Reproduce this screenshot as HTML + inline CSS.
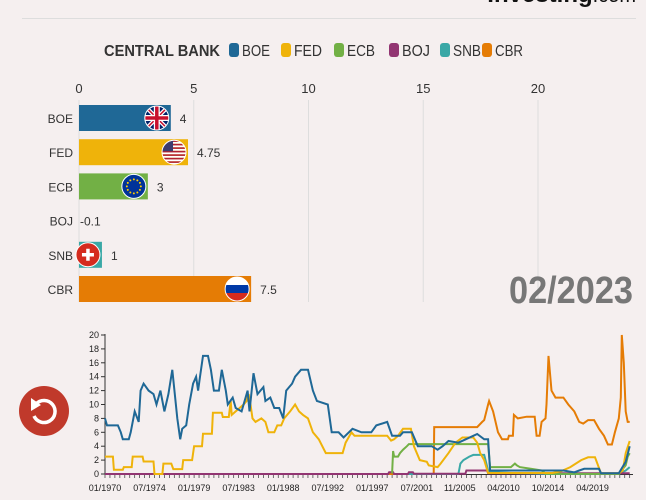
<!DOCTYPE html>
<html><head><meta charset="utf-8"><style>
body{margin:0;background:#f5efef;width:646px;height:500px;overflow:hidden;position:relative;font-family:"Liberation Sans",sans-serif;}
svg{position:absolute;left:0;top:0}
</style></head><body>
<svg id="c" width="646" height="500">
<text x="636" y="2" text-anchor="end" font-family="Liberation Sans" font-weight="bold" font-size="24" fill="#111">Investing<tspan font-weight="normal" font-size="20">.com</tspan></text>
<line x1="22" y1="18.5" x2="636" y2="18.5" stroke="#ddd"/>
<g id="legend" font-size="16" fill="#333"></g>
<g id="bars"></g>
<text x="509" y="303" font-size="38" font-weight="bold" fill="#777" textLength="124" lengthAdjust="spacingAndGlyphs">02/2023</text>
<g id="lines"></g>
<g>
<circle cx="44" cy="411" r="25" fill="#c0392b"/>
<path d="M36 404 A11 11 0 1 1 34 416" fill="none" stroke="#fff" stroke-width="3.5"/>
<polygon points="31,398 41,405 31,411" fill="#fff"/>
</g>
</svg>
<script>
const NS="http://www.w3.org/2000/svg";
function mk(t,a,p){const e=document.createElementNS(NS,t);for(const k in a)e.setAttribute(k,a[k]);p.appendChild(e);return e;}
const banks=["BOE","FED","ECB","BOJ","SNB","CBR"];
const colors=["#1f6896","#efb30a","#72b045","#923572","#3aa8a6","#e57c05"];
const rates=[4,4.75,3,-0.1,1,7.5];
const rateLabels=["4","4.75","3","-0.1","1","7.5"];
const barTicks=[0,5,10,15,20];

// legend
const lg=document.getElementById('legend');
let t=mk('text',{x:104,y:56,'font-weight':'bold',textLength:116,lengthAdjust:'spacingAndGlyphs'},lg);t.textContent="CENTRAL BANK";

const lx=[229,281,334,389,440,482];
banks.forEach((b,i)=>{const g=mk('g',{},lg);


mk('rect',{x:lx[i],y:43,width:10,height:14,rx:3,fill:colors[i]},g);
const tx=mk('text',{x:lx[i]+13,y:56,textLength:28,lengthAdjust:'spacingAndGlyphs'},g);tx.textContent=b;});

// bar chart
const bg=document.getElementById('bars');
const bx=v=>79+v*22.95;
barTicks.forEach(v=>{const l=mk('line',{x1:bx(v),y1:100,x2:bx(v),y2:302,stroke:'#ddd'},bg);

const tx=mk('text',{x:bx(v),y:93,'text-anchor':'middle','font-size':13,fill:'#333'},bg);tx.textContent=v;
});
banks.forEach((b,i)=>{const cy=118+i*34.2;
const lab=mk('text',{x:73,y:cy+5,'text-anchor':'end','font-size':12,fill:'#333'},bg);lab.textContent=b;

const v=rates[i];const x0=bx(Math.min(0,v)),w=v>0?Math.abs(bx(v)-bx(0)):0;
const r=mk('rect',{x:x0,y:cy-13,width:w,height:26,fill:colors[i]},bg);

if(v>0.5){const fx=bx(v)-14;const f=mk('g',{},bg);

drawFlag(b,fx,cy,f);}
const vl=mk('text',{x:v>0?bx(v)+9:bx(0)+1,y:cy+5,'font-size':12,fill:'#333'},bg);vl.textContent=rateLabels[i];
});
function drawFlag(b,x,y,g){const id='cl'+b;const d=mk('clipPath',{id:id},g);mk('circle',{cx:x,cy:y,r:12},d);
const h=mk('g',{'clip-path':'url(#'+id+')'},g);
if(b=="BOE"){mk('rect',{x:x-12,y:y-12,width:24,height:24,fill:'#012169'},h);
mk('path',{d:`M${x-12} ${y-12}L${x+12} ${y+12}M${x+12} ${y-12}L${x-12} ${y+12}`,stroke:'#fff','stroke-width':4},h);
mk('path',{d:`M${x-12} ${y-12}L${x+12} ${y+12}M${x+12} ${y-12}L${x-12} ${y+12}`,stroke:'#c8102e','stroke-width':1.5},h);
mk('path',{d:`M${x} ${y-12}V${y+12}M${x-12} ${y}H${x+12}`,stroke:'#fff','stroke-width':6},h);
mk('path',{d:`M${x} ${y-12}V${y+12}M${x-12} ${y}H${x+12}`,stroke:'#c8102e','stroke-width':3.5},h);}
if(b=="FED"){for(let k=0;k<7;k++)mk('rect',{x:x-12,y:y-12+k*3.5,width:24,height:1.75,fill:'#b22234'},h);
for(let k=0;k<7;k++)mk('rect',{x:x-12,y:y-12+k*3.5+1.75,width:24,height:1.75,fill:'#fff'},h);
mk('rect',{x:x-12,y:y-12,width:11,height:11,fill:'#3c3b6e'},h);}
if(b=="ECB"){mk('rect',{x:x-12,y:y-12,width:24,height:24,fill:'#003399'},h);
for(let k=0;k<12;k++){const a=k*Math.PI/6;mk('circle',{cx:x+7*Math.cos(a),cy:y+7*Math.sin(a),r:1,fill:'#fc0'},h);}}
if(b=="SNB"){mk('rect',{x:x-12,y:y-12,width:24,height:24,fill:'#d52b1e'},h);
mk('path',{d:`M${x} ${y-6}V${y+6}M${x-6} ${y}H${x+6}`,stroke:'#fff','stroke-width':3.5},h);}
if(b=="CBR"){mk('rect',{x:x-12,y:y-12,width:24,height:8,fill:'#fff'},h);mk('rect',{x:x-12,y:y-4,width:24,height:8,fill:'#0039a6'},h);mk('rect',{x:x-12,y:y+4,width:24,height:8,fill:'#d52b1e'},h);}
mk('circle',{cx:x,cy:y,r:12,fill:'none',stroke:'#fff','stroke-width':1},g);}

// line chart data
const yearTicks=["01/1970","07/1974","01/1979","07/1983","01/1988","07/1992","01/1997","07/2001","11/2005","04/2010","10/2014","04/2019"];
const yTicks=[0,2,4,6,8,10,12,14,16,18,20];
const boeYears=[1970.0,1970.2,1971.3,1971.6,1971.8,1972.4,1972.6,1973.0,1973.4,1973.6,1973.9,1974.4,1974.9,1975.2,1975.6,1976.0,1976.4,1976.8,1977.3,1977.6,1977.8,1978.2,1978.5,1978.9,1979.2,1979.4,1979.6,1979.9,1980.4,1980.7,1981.0,1981.5,1981.8,1982.2,1982.4,1982.9,1983.2,1983.8,1984.4,1984.6,1985.0,1985.4,1986.0,1986.2,1986.7,1987.1,1987.6,1988.0,1988.3,1988.9,1989.2,1989.8,1990.5,1991.0,1991.4,1992.5,1992.9,1993.6,1994.1,1995.0,1995.9,1996.9,1997.4,1998.5,1999.0,1999.8,2000.1,2001.0,2001.6,2003.0,2003.6,2004.1,2004.7,2005.7,2007.2,2007.6,2008.3,2008.7,2008.9,2016.3,2017.4,2017.9,2018.4,2019.9,2020.1,2021.9,2022.6,2023.0];
const boeValues=[8,7,7,6,5,5,6,9,7.5,12,13,12,11.5,10,12,9,11.5,15,8,5,6.5,7,10,13,14,12,14,17,17,15,12,12,15,12,10,11,9.5,9,12,9,14.5,11.5,12.5,10.5,11,9.5,9.5,8,12,13,14,15,15,12,10.5,10,6,6,5.25,6.5,6,6,7,7.5,5.5,5.5,6,6,4,4,3.5,4,4.75,4.5,5.5,5.75,5,5,0.5,0.5,0.25,0.5,0.75,0.75,0.1,0.1,1.75,4];
const fedYears=[1970.0,1970.8,1970.9,1971.8,1971.9,1972.7,1972.8,1973.8,1973.9,1974.9,1975.0,1975.8,1975.9,1976.7,1976.9,1977.8,1977.9,1978.8,1979.0,1979.8,1979.9,1980.8,1980.9,1981.8,1981.9,1982.5,1982.7,1982.8,1983.2,1983.6,1984.0,1984.3,1984.5,1984.7,1984.9,1985.2,1985.8,1986.2,1986.5,1987.1,1987.4,1987.8,1988.1,1988.7,1989.2,1989.6,1990.0,1990.5,1991.0,1991.6,1992.3,1994.0,1994.3,1994.9,1995.2,1998.5,1998.9,1999.2,1999.6,2000.1,2000.9,2001.2,2001.8,2002.5,2002.7,2003.6,2003.9,2004.7,2005.4,2006.1,2007.2,2007.6,2007.9,2008.3,2008.7,2015.2,2016.1,2017.0,2018.1,2018.8,2019.5,2020.1,2021.9,2022.3,2022.6,2023.0];
const fedValues=[2.5,2.5,0.6,0.6,1,1,2.5,2.5,1.8,1.8,0,0,1.5,1.5,0.7,0.7,2,2,4,4,5.8,5.8,8.8,8.8,8.2,8.2,10.5,8.5,9,9.5,10,10.5,11.5,10,8,7.5,8,7.5,6,6,7,7,8,9,10,9,8.5,8,6,5,3,3,4.5,6,5.5,5.5,4.8,5,5.5,6.5,6.5,4,2,1.75,1.25,1,1.5,3,4.5,5.25,5.25,4.5,3,2,0.15,0.15,0.4,1,2,2.4,2.4,0.1,0.1,0.5,3,4.75];
const ecbYears=[1999.0,1999.1,1999.2,1999.6,1999.8,2000.1,2000.5,2000.7,2008.7,2008.9,2011.0,2011.4,2011.6,2011.9,2013.0,2014.1,2014.5,2021.9,2022.6,2022.8,2023.0];
const ecbValues=[0.1,3.3,2.5,2.5,3,3.5,4,4.3,4.3,1,1,1.5,1.25,1,0.75,0.5,0.05,0,1.25,2.5,3];
const bojYears=[1970.0,1998.6,1998.7,1999.1,1999.2,2000.6,2000.7,2001.1,2001.2,2006.4,2006.5,2008.6,2008.7,2023.0];
const bojValues=[0,0,0.25,0.25,0,0,0.25,0.25,0.05,0.05,0.5,0.5,0.1,0.1];
const snbYears=[2000.0,2005.7,2005.9,2006.2,2006.8,2007.2,2008.3,2008.7,2009.0,2014.5,2021.9,2022.6,2023.0];
const snbValues=[0,0,1.5,2,2.5,2.75,2.75,0.5,0.25,0,0,0.5,1];
const cbrYears=[1970.0,2003.2,2003.25,2007.6,2008.1,2008.3,2008.7,2008.8,2009.2,2009.7,2010.1,2010.7,2010.8,2011.2,2011.3,2011.7,2012.6,2013.4,2013.6,2013.9,2014.1,2014.5,2014.6,2014.8,2015.1,2015.5,2016.3,2016.8,2017.4,2017.9,2018.3,2018.8,2019.4,2019.9,2020.4,2020.8,2021.2,2021.5,2021.9,2022.1,2022.2,2022.4,2022.6,2022.8,2023.0];
const cbrValues=[0,0,6.75,6.75,7.5,7.75,10,10.5,9,6,5,5,5.5,5.5,8.5,8,8.25,8.25,5.5,5.5,7.5,8,10,17,12,11,11,10,9,7.5,7.25,7.75,7.75,6.5,5.5,4.25,4.25,6,8,11,20,16,9,7.5,7.5];

const lgp=document.getElementById('lines');
const xs=yr=>105+(yr-1970)*9.9;
const ys=v=>474-Math.max(0,v)*6.95;
mk('line',{x1:105,y1:334,x2:105,y2:474,stroke:'#333'},lgp);
mk('line',{x1:105,y1:474.5,x2:633,y2:474.5,stroke:'#333'},lgp);
yTicks.forEach(v=>{mk('line',{x1:101,y1:ys(v),x2:105,y2:ys(v),stroke:'#333'},lgp);
const tx=mk('text',{x:99,y:ys(v)+3,'text-anchor':'end','font-size':9,fill:'#222'},lgp);tx.textContent=v;
});
for(let yr=1970;yr<=2023;yr+=0.5)mk('line',{x1:xs(yr),y1:474,x2:xs(yr),y2:478,stroke:'#333','stroke-width':0.7},lgp);
yearTicks.forEach(s=>{const [m,y]=s.split('/').map(Number);const yr=y+(m-1)/12;
const tx=mk('text',{x:xs(yr),y:491,'text-anchor':'middle','font-size':9,fill:'#222'},lgp);tx.textContent=s;
});
const series=[[boeYears,boeValues],[fedYears,fedValues],[ecbYears,ecbValues],[bojYears,bojValues],[snbYears,snbValues],[cbrYears,cbrValues]];
const order=[5,4,3,2,1,0];
order.forEach(i=>{const [X,Y]=series[i];
const d=X.map((x,k)=>(k?'L':'M')+xs(x).toFixed(1)+' '+ys(Y[k]).toFixed(1)).join('');
const p=mk('path',{d:d,fill:'none',stroke:colors[i],'stroke-width':2},lgp);

});
</script>
</body></html>
